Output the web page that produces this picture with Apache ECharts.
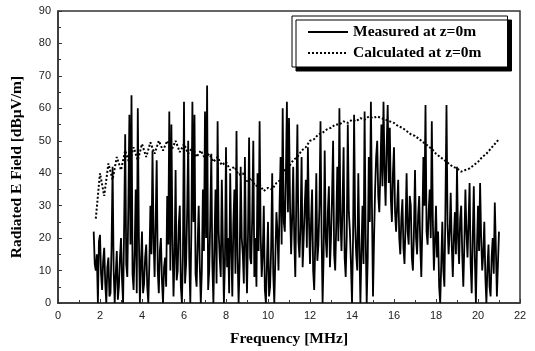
<!DOCTYPE html>
<html>
 <head>
  <meta charset="utf-8" />
  <title>Radiated E Field</title>
  <script type="text/javascript" src="https://cdn.jsdelivr.net/npm/echarts@6/dist/echarts.min.js"></script>
  <style type="text/css">
html, body {
	width: 100%;
	height: 100%;
	margin: 0;
	background: #fff;
}

#main {
	width: 535px;
	height: 351px;
}
</style>
 </head>
 <body>
  <div id="main"></div>

<script type="text/javascript">
// measured trace, one value every 0.05 MHz starting at 1.7 MHz
var measuredStart = 1.7;
var measuredStep = 0.05;
var measured = [
    22, 12, 10, 15, 0, 19,                                                  // 1.70 - 1.95
    21, 9, 4, 13, 17, 6, 0, 11, 14, 2, 3, 17, 42, 10, 0, 9, 16, 1, 5, 14,    // 2
    20, 7, 0, 24, 52, 12, 8, 30, 58, 18, 64, 9, 4, 16, 35, 3, 60, 21, 0, 12, // 3
    22, 3, 6, 14, 18, 5, 0, 12, 30, 15, 47, 20, 8, 25, 44, 10, 3, 16, 20, 7, // 4
    0, 11, 14, 5, 33, 18, 59, 10, 55, 20, 2, 14, 41, 7, 10, 24, 30, 5, 0, 15, // 5
    62, 6, 12, 28, 50, 14, 0, 22, 62, 25, 58, 9, 5, 18, 30, 12, 0, 10, 35, 16, // 6
    59, 20, 67, 4, 10, 25, 46, 12, 0, 18, 35, 6, 56, 22, 14, 8, 38, 19, 0, 13, // 7
    48, 11, 20, 3, 40, 17, 2, 24, 35, 9, 53, 15, 0, 12, 42, 20, 15, 6, 45, 18, // 8
    3, 22, 51, 14, 12, 27, 50, 8, 20, 5, 40, 16, 56, 21, 8, 15, 30, 4, 0, 12,  // 9
    25, 2, 5, 17, 40, 9, 0, 14, 28, 22, 10, 30, 45, 18, 60, 25, 22, 38, 62, 28, // 10
    57, 30, 15, 26, 42, 20, 8, 33, 55, 19, 14, 24, 45, 11, 20, 30, 38, 17, 48, 26, // 11
    12, 25, 35, 10, 4, 18, 40, 13, 18, 30, 56, 22, 0, 15, 47, 20, 14, 28, 36, 11, // 12
    20, 33, 50, 15, 10, 24, 42, 19, 60, 26, 16, 30, 48, 14, 8, 21, 55, 28, 22, 12, // 13
    0, 20, 58, 24, 15, 10, 40, 18, 0, 16, 30, 12, 59, 21, 0, 14, 45, 25, 62, 30,   // 14
    2, 20, 35, 45, 50, 33, 28, 40, 55, 36, 62, 41, 30, 48, 61, 37, 54, 32, 25, 40, // 15
    48, 28, 22, 30, 38, 20, 15, 26, 32, 17, 12, 24, 40, 22, 18, 33, 30, 14, 10, 22, // 16
    41, 20, 15, 27, 33, 18, 8, 24, 45, 30, 61, 22, 18, 28, 35, 20, 56, 25, 10, 19,  // 17
    30, 14, 22, 5, 0, 12, 25, 10, 5, 30, 61, 24, 15, 22, 34, 18, 8, 20, 28, 15,     // 18
    42, 20, 12, 26, 30, 15, 5, 18, 35, 22, 14, 25, 37, 12, 3, 20, 36, 14, 0, 17,    // 19
    30, 16, 37, 20, 10, 15, 25, 8, 0, 11, 18, 5, 2, 14, 20, 9, 31, 17, 2, 12,       // 20
    22                                                                              // 21.00
];

// calculated curve, one value every 0.2 MHz starting at 1.8 MHz
var calculatedStart = 1.8;
var calculatedStep = 0.2;
var calculated = [
    26, 40, 33, 43, 38, 45, 41, 47, 43, 48,                 // 1.8 - 3.6
    44, 49, 45, 49.5, 46, 50, 47, 50, 47, 50,               // 3.8 - 5.6
    46.5, 49, 46, 48, 45, 47, 44.5, 46, 43.5, 45,           // 5.8 - 7.6
    42.5, 43.5, 41, 42, 39.5, 40, 37.5, 38.5, 36, 36.5,     // 7.8 - 9.6
    34.5, 35.5, 35, 37, 38, 41, 42, 44, 45, 47,             // 9.8 - 11.6
    48, 50, 50.5, 52, 52.5, 53.5, 54, 55, 55, 56,           // 11.8 - 13.6
    55.5, 56.5, 56, 57, 56.5, 57.5, 57, 57.5, 57, 56.5,     // 13.8 - 15.6
    56, 55.5, 54.5, 54, 53, 52, 51.5, 50.5, 49.5, 48.5,     // 15.8 - 17.6
    47.5, 46, 45, 44, 43, 42, 41.5, 40.5, 41, 41.5,         // 17.8 - 19.6
    42.5, 43.5, 45, 46, 47.5, 49, 50.5                      // 19.8 - 21.0
];

var seriesNames = ['Measured at z=0m', 'Calculated at z=0m'];

function pairs(start, step, values) {
    return values.map(function (v, i) {
        return [+(start + step * i).toFixed(2), v];
    });
}

var chart = echarts.init(document.getElementById('main'));

var serif = '"Liberation Serif", "Times New Roman", serif';
var sans = '"Liberation Sans", Arial, sans-serif';

var option = {
    animation: false,
    backgroundColor: '#fff',
    grid: {
        left: 58,
        right: 15,
        top: 11,
        bottom: 48,
        show: true,
        borderColor: '#333',
        borderWidth: 1.5,
        outerBoundsMode: 'none'
    },
    legend: {
        orient: 'vertical',
        left: 292,
        top: 16,
        padding: [8, 26, 6, 15],
        itemWidth: 40,
        itemHeight: 12,
        itemGap: 5,
        backgroundColor: '#fff',
        borderColor: '#000',
        borderWidth: 1,
        shadowColor: '#000',
        shadowBlur: 0,
        shadowOffsetX: 4,
        shadowOffsetY: 4,
        itemStyle: { opacity: 0 },
        textStyle: {
            fontFamily: serif,
            fontWeight: 'bold',
            fontSize: 15.5,
            color: '#000'
        },
        data: seriesNames
    },
    xAxis: {
        type: 'value',
        min: 0,
        max: 22,
        interval: 2,
        name: 'Frequency [MHz]',
        nameLocation: 'middle',
        nameGap: 28,
        nameTextStyle: {
            fontFamily: serif,
            fontWeight: 'bold',
            fontSize: 15.5,
            color: '#000'
        },
        axisLine: { lineStyle: { color: '#333', width: 1.5 } },
        axisTick: { inside: true, length: 4, lineStyle: { color: '#333' } },
        minorTick: { show: true, splitNumber: 2, length: 3, lineStyle: { color: '#333' } },
        splitLine: { show: false },
        axisLabel: { fontFamily: sans, fontSize: 11, color: '#222', margin: 7 }
    },
    yAxis: {
        type: 'value',
        min: 0,
        max: 90,
        interval: 10,
        name: 'Radiated E Field [dBμV/m]',
        nameLocation: 'middle',
        nameGap: 33,
        nameTextStyle: {
            fontFamily: serif,
            fontWeight: 'bold',
            fontSize: 15.5,
            color: '#000',
            padding: [0, 20, 0, 0]
        },
        axisLine: { lineStyle: { color: '#333', width: 1.5 } },
        axisTick: { inside: true, length: 4, lineStyle: { color: '#333' } },
        minorTick: { show: true, splitNumber: 2, length: 3, lineStyle: { color: '#333' } },
        splitLine: { show: false },
        axisLabel: { fontFamily: sans, fontSize: 11, color: '#222', margin: 7 }
    },
    series: [{
        name: seriesNames[0],
        type: 'line',
        symbol: 'none',
        data: pairs(measuredStart, measuredStep, measured),
        lineStyle: { color: '#000', width: 1.8 },
        itemStyle: { color: '#000' },
        z: 2
    }, {
        name: seriesNames[1],
        type: 'line',
        symbol: 'none',
        data: pairs(calculatedStart, calculatedStep, calculated),
        lineStyle: { color: '#000', width: 2, type: [2, 2] },
        itemStyle: { color: '#000' },
        z: 3
    }]
};

chart.setOption(option);
</script>
 </body>
</html>
